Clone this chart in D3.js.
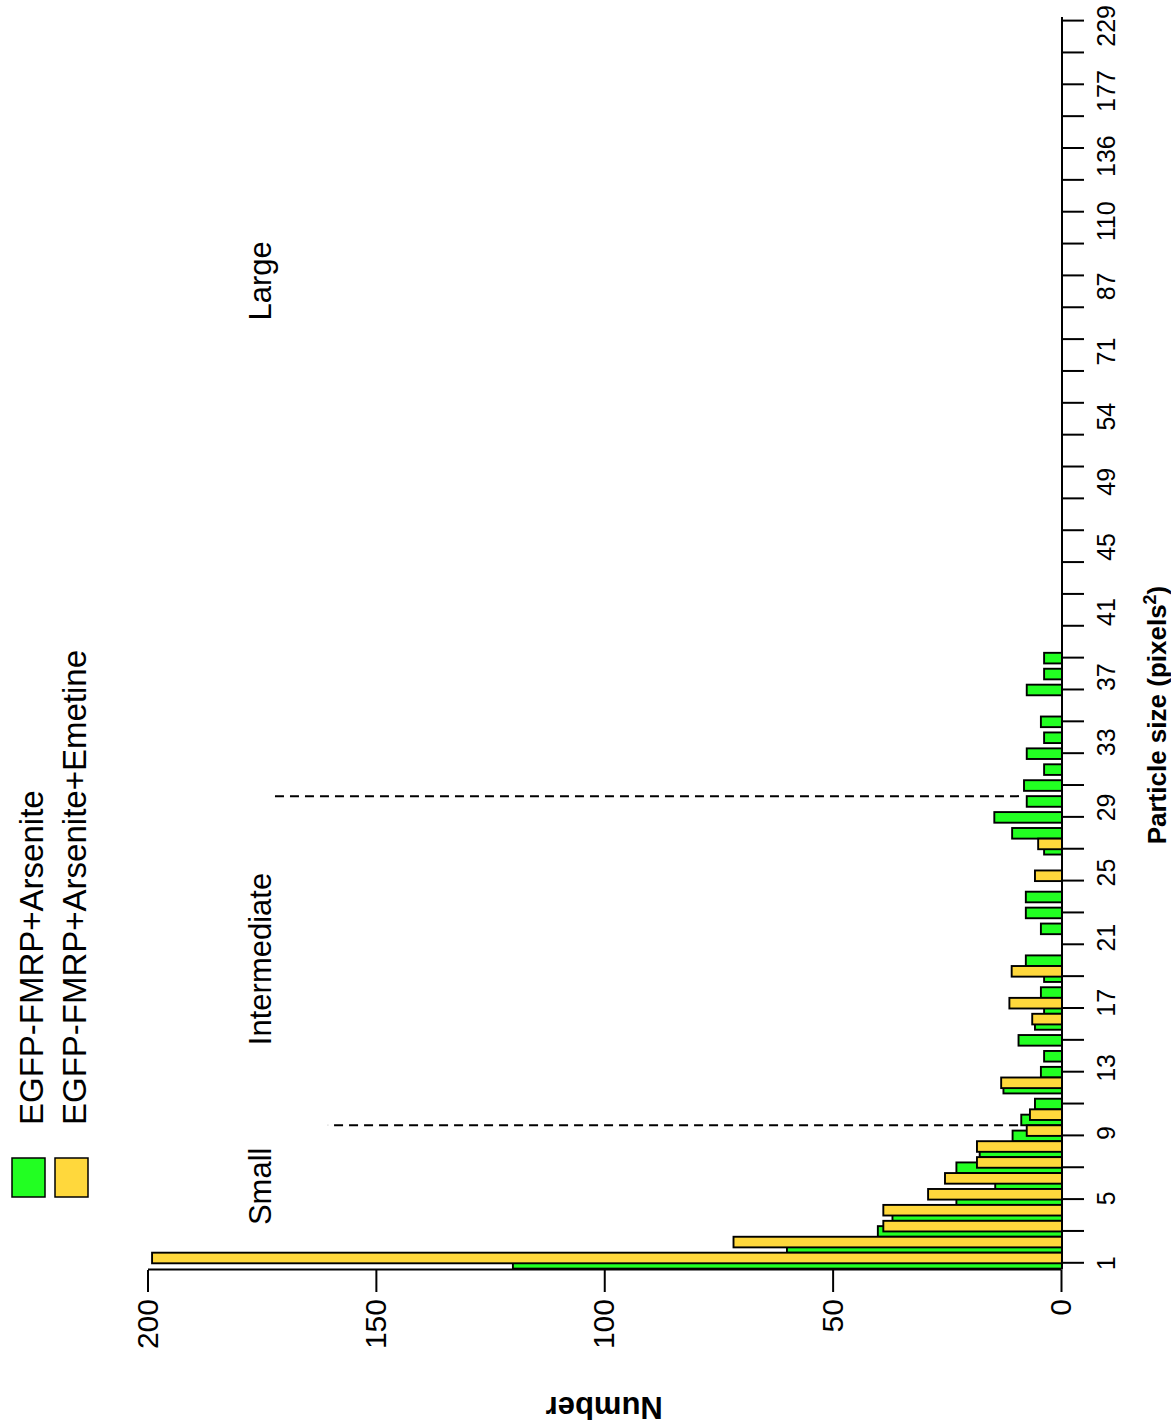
<!DOCTYPE html>
<html>
<head>
<meta charset="utf-8">
<script src="https://cdn.jsdelivr.net/npm/d3@7/dist/d3.min.js"></script>
<style>
  html, body { margin: 0; padding: 0; background: #fff; }
  svg { display: block; }
  text { font-family: "Liberation Sans", Arial, Helvetica, sans-serif; fill: #000; }
</style>
</head>
<body>
<svg id="chart" width="1171" height="1427"></svg>
<script>
// Particle-size bins (1 px² each) and particle counts per bin
const bins = d3.range(1, 40);
const arsenite = [120, 60, 40.1, 36.9, 22.9, 14.4, 22.9, 17.8, 10.6, 8.7,
                  5.7, 12.6, 4.4, 3.7, 9.3, 5.7, 3.7, 4.4, 3.7, 7.7,
                  0, 4.4, 7.7, 7.7, 0, 0, 3.7, 10.7, 14.6, 7.5,
                  8.1, 3.7, 7.5, 3.7, 4.4, 0, 7.5, 3.7, 3.7];
const arseniteEmetine = [199, 71.7, 38.9, 38.9, 29.1, 25.4, 18.4, 18.4, 7.5, 6.8,
                         0, 13.1, 0, 0, 0, 6.3, 11.3, 0, 10.8, 0,
                         0, 0, 0, 0, 5.7, 0, 5.0, 0, 0, 0,
                         0, 0, 0, 0, 0, 0, 0, 0, 0];
const binCount = 79;
const sizeLabels = ["1", "5", "9", "13", "17", "21", "25", "29", "33", "37",
                    "41", "45", "49", "54", "71", "87", "110", "136", "177", "229"];
const countTicks = [0, 50, 100, 150, 200];

const seriesNames = ["EGFP-FMRP+Arsenite", "EGFP-FMRP+Arsenite+Emetine"];
const seriesColors = ["#22ff22", "#ffd83c"];

// Size classes: label start (bin), and dashed dividers between classes
const classNames = ["Small", "Intermediate", "Large"];
const classStart = [3.4, 14.7, 60.2];
const classLevel = 173;
const dividerAt = [9.667, 30.333];
const dividerFrom = [9.4, 9.2];
const dividerTo = [160.5, 173.2];

// The plot is laid out in its own frame, then turned a quarter turn
const W = 1171, H = 1427;
const svg = d3.select("#chart");
const g = svg.append("g").attr("transform", `translate(0,${H}) rotate(-90)`);

const x = d3.scaleLinear().domain([1, binCount]).range([163.7, 1405.9]);
const y = d3.scaleLinear().domain([0, 200]).range([1061, 147.5]);
const labelPos = d3.scalePoint().domain(sizeLabels).range([x(1), x(78.7)]);
const axisY = 1062;

// bars: green first, yellow drawn over, offset by a third of a bin
const third = 1 / 3;
const barW = x(1 + 2 * third) - x(1);
g.append("g").selectAll("rect").data(bins.filter((b, i) => arsenite[i] > 0))
  .join("rect")
  .attr("x", b => x(b - third))
  .attr("width", barW)
  .attr("y", b => y(arsenite[b - 1]))
  .attr("height", b => axisY - y(arsenite[b - 1]))
  .attr("fill", seriesColors[0])
  .attr("stroke", "#000").attr("stroke-width", 1.9);

g.append("g").selectAll("rect").data(bins.filter((b, i) => arseniteEmetine[i] > 0))
  .join("rect")
  .attr("x", b => x(b))
  .attr("width", barW)
  .attr("y", b => y(arseniteEmetine[b - 1]))
  .attr("height", b => axisY - y(arseniteEmetine[b - 1]))
  .attr("fill", seriesColors[1])
  .attr("stroke", "#000").attr("stroke-width", 1.9);

// particle-size axis
const sizeAxis = d3.axisBottom(x)
  .tickValues(d3.range(1, binCount + 1, 2))
  .tickSize(22).tickSizeOuter(0).tickFormat("");
const sa = g.append("g").attr("transform", `translate(0,${axisY})`).call(sizeAxis);
sa.select(".domain").remove();
sa.selectAll(".tick line").attr("stroke", "#000").attr("stroke-width", 2);
g.append("line")
  .attr("x1", x(0.67)).attr("x2", x(binCount + 0.25))
  .attr("y1", axisY).attr("y2", axisY)
  .attr("stroke", "#000").attr("stroke-width", 2);
g.append("g").selectAll("text").data(sizeLabels).join("text")
  .attr("x", d => labelPos(d))
  .attr("y", 1115)
  .attr("text-anchor", "middle")
  .attr("font-size", 25)
  .text(d => d);

// count axis
const countAxis = d3.axisLeft(y).tickValues(countTicks)
  .tickSize(22).tickSizeOuter(0).tickPadding(7);
const ca = g.append("g").attr("transform", "translate(157,0)").call(countAxis);
ca.select(".domain").attr("stroke", "#000").attr("stroke-width", 2);
ca.selectAll(".tick line").attr("stroke", "#000").attr("stroke-width", 2);
ca.selectAll(".tick text")
  .attr("font-family", "Liberation Sans, Arial, sans-serif")
  .attr("font-size", 30).attr("fill", "#000");

// axis titles
const xt = g.append("text")
  .attr("x", 712).attr("y", 1166)
  .attr("text-anchor", "middle")
  .attr("font-size", 26).attr("font-weight", "bold");
xt.append("tspan").text("Particle size (pixels");
xt.append("tspan").attr("baseline-shift", "super").attr("font-size", 18).text("2");
xt.append("tspan").text(")");

g.append("text")
  .attr("transform", `translate(30,${(y(0) + y(200)) / 2}) rotate(-90)`)
  .attr("text-anchor", "middle")
  .attr("font-size", 31).attr("font-weight", "bold")
  .text("Number");

// class dividers and names
g.append("g").selectAll("line").data(dividerAt).join("line")
  .attr("x1", d => x(d)).attr("x2", d => x(d))
  .attr("y1", (d, i) => y(dividerFrom[i]))
  .attr("y2", (d, i) => y(dividerTo[i]))
  .attr("stroke", "#000").attr("stroke-width", 2)
  .attr("stroke-dasharray", "9,6");

g.append("g").selectAll("text").data(classNames).join("text")
  .attr("x", (d, i) => x(classStart[i]))
  .attr("y", y(classLevel))
  .attr("font-size", 31)
  .text(d => d);

// legend
const lg = g.append("g");
seriesNames.forEach((name, i) => {
  const top = i === 0 ? 12 : 55;
  lg.append("rect")
    .attr("x", 230).attr("y", top)
    .attr("width", 39).attr("height", 33)
    .attr("fill", seriesColors[i])
    .attr("stroke", "#000").attr("stroke-width", 1.5);
  lg.append("text")
    .attr("x", 302).attr("y", top + 31)
    .attr("font-size", 33)
    .text(name);
});
</script>
</body>
</html>
